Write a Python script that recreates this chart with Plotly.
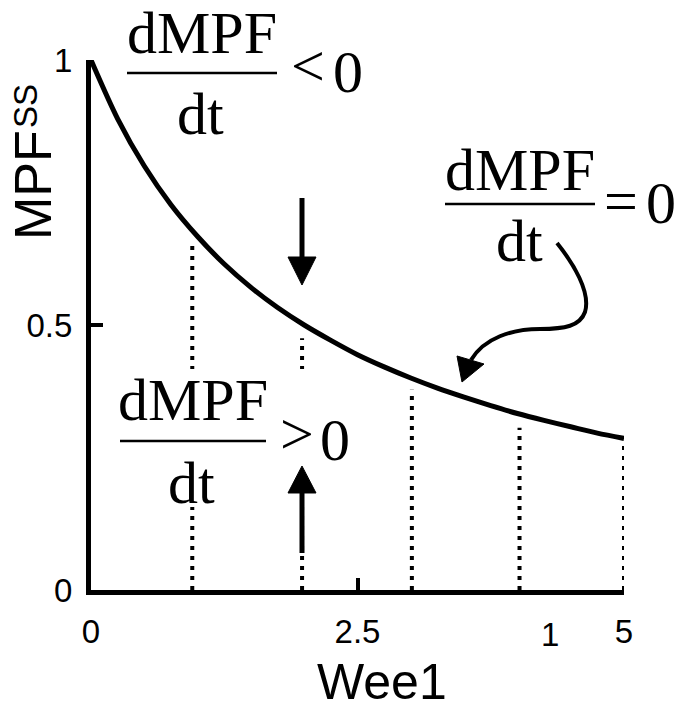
import plotly.graph_objects as go

# Steady-state MPF activity against Wee1 level
wee1 = [0, 0.25, 0.5, 0.75, 1, 1.25, 1.5, 1.75, 2, 2.25, 2.5, 2.75, 3,
        3.25, 3.5, 3.75, 4, 4.25, 4.5, 4.75, 5]
mpf_ss = [1.0, 0.889, 0.80, 0.727, 0.667, 0.615, 0.571, 0.533, 0.50, 0.471, 0.444, 0.421, 0.40,
          0.381, 0.364, 0.348, 0.333, 0.32, 0.308, 0.296, 0.286]

# Dotted vertical guides: Wee1 position and height they reach
guide_x = [0.95, 1.98, 3.01, 4.02, 5.0]
guide_top = [0.66, 0.475, 0.378, 0.306, 0.275]

x_tickvals = [0, 2.5, 5]
x_ticktext = ["0", "2.5", "5"]
y_tickvals = [0, 0.5, 1]
y_ticktext = ["0", "0.5", "1"]

W, H = 688, 711
L, R, T, B = 91, 64, 60, 121
PW, PH = W - L - R, H - T - B


def px(x):
    return (x - L) / PW


def py(y):
    return (H - B - y) / PH


def path(points, close=False):
    s = "M {:.5f},{:.5f}".format(px(points[0][0]), py(points[0][1]))
    for p in points[1:]:
        s += " L {:.5f},{:.5f}".format(px(p[0]), py(p[1]))
    if close:
        s += " Z"
    return s


def bezier(start, segs):
    s = "M {:.5f},{:.5f}".format(px(start[0]), py(start[1]))
    for c1, c2, e in segs:
        s += " C {:.5f},{:.5f} {:.5f},{:.5f} {:.5f},{:.5f}".format(
            px(c1[0]), py(c1[1]), px(c2[0]), py(c2[1]), px(e[0]), py(e[1]))
    return s


fig = go.Figure()

gx, gy = [], []
for x, top in zip(guide_x, guide_top):
    gx += [x, x, None]
    gy += [0, top, None]
fig.add_trace(go.Scatter(x=gx, y=gy, mode="lines",
                         line=dict(color="black", width=4, dash="4px,6px"),
                         hoverinfo="skip", showlegend=False))

fig.add_trace(go.Scatter(x=wee1, y=mpf_ss, mode="lines",
                         line=dict(color="black", width=5, shape="spline", smoothing=0.8),
                         showlegend=False))

shapes = []
# white backing behind the lower label
shapes.append(dict(type="rect", xref="paper", yref="paper",
                   x0=px(112), x1=px(352), y0=py(507), y1=py(369),
                   fillcolor="white", line=dict(width=0), layer="above"))
# straight arrows
shapes.append(dict(type="line", xref="paper", yref="paper",
                   x0=px(302), x1=px(302), y0=py(198), y1=py(260),
                   line=dict(color="black", width=5), layer="above"))
shapes.append(dict(type="path", xref="paper", yref="paper",
                   path=path([(288, 257), (316, 257), (302, 285)], close=True),
                   fillcolor="black", line=dict(color="black", width=1), layer="above"))
shapes.append(dict(type="line", xref="paper", yref="paper",
                   x0=px(302), x1=px(302), y0=py(553), y1=py(490),
                   line=dict(color="black", width=5), layer="above"))
shapes.append(dict(type="path", xref="paper", yref="paper",
                   path=path([(288, 493), (316, 493), (302, 466)], close=True),
                   fillcolor="black", line=dict(color="black", width=1), layer="above"))
# curved arrow
shapes.append(dict(type="path", xref="paper", yref="paper",
                   path=bezier((557, 243), [((573, 263), (591, 292), (585, 312)),
                                            ((580, 326), (565, 329), (540, 329)),
                                            ((512, 329), (484, 338), (471, 360))]),
                   line=dict(color="black", width=4), layer="above"))
shapes.append(dict(type="path", xref="paper", yref="paper",
                   path=path([(457, 356), (484, 364), (462, 382)], close=True),
                   fillcolor="black", line=dict(color="black", width=1), layer="above"))
# fraction bars
for x0, x1, y in [(127, 277, 73), (445, 595, 204), (120, 266, 441)]:
    shapes.append(dict(type="line", xref="paper", yref="paper",
                       x0=px(x0), x1=px(x1), y0=py(y), y1=py(y),
                       line=dict(color="black", width=2.5), layer="above"))

serif = "Liberation Serif"
sans = "Liberation Sans"
ann = []


def text(t, x, y, size, family=serif, angle=0):
    ann.append(dict(text=t, x=px(x), y=py(y), xref="paper", yref="paper",
                    xanchor="center", yanchor="middle", showarrow=False,
                    textangle=angle, font=dict(family=family, size=size, color="black")))


FS = 60
for num, den, op, zero in [
    ((202, 33), (200, 114), ("<", 308, 66), (348, 72)),
    ((520, 170), (519, 241), ("=", 621, 201), (661, 203)),
    ((193, 400), (191, 483), (">", 297, 434), (335, 440)),
]:
    text("dMPF", num[0], num[1], FS)
    text("dt", den[0], den[1], FS)
    text(op[0], op[1], op[2], FS)
    text("0", zero[0], zero[1], FS)

text("Wee1", 382, 682, 50, sans)
text("1", 550, 634, 33, sans)
text("MPF", 33, 185, 52, sans, -90)
text("SS", 25, 106, 33, sans, -90)

axis_common = dict(showgrid=False, zeroline=False, showline=True, linewidth=5,
                   linecolor="black", ticks="inside", ticklen=12, tickwidth=4,
                   tickcolor="black", tickfont=dict(family=sans, size=33, color="black"))

fig.update_layout(
    width=W, height=H,
    margin=dict(l=L, r=R, t=T, b=B),
    paper_bgcolor="white", plot_bgcolor="white",
    xaxis=dict(range=[0, 5], tickvals=x_tickvals, ticktext=x_ticktext,
               ticklabelstandoff=8, **axis_common),
    yaxis=dict(range=[0, 1], tickvals=y_tickvals, ticktext=y_ticktext,
               ticklabelstandoff=7, **axis_common),
    shapes=shapes, annotations=ann, showlegend=False,
)

fig.write_html("out.html")
